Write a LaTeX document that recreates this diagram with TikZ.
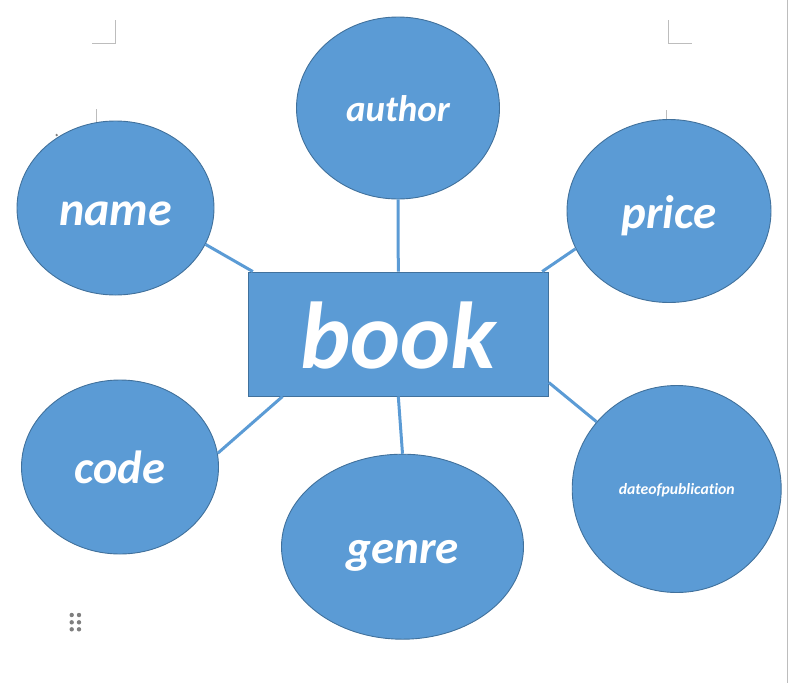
\documentclass[tikz,border=0pt]{standalone}
\usepackage{fontspec}
\setmainfont{Carlito}[Ligatures=CommonOff]
\usetikzlibrary{shapes.geometric,calc}
\definecolor{ofill}{HTML}{5B9BD5}
\definecolor{oedge}{HTML}{41719C}
\definecolor{guidegray}{HTML}{BDBDBD}
\definecolor{dotgray}{HTML}{7F7F7F}
\begin{document}
\begin{tikzpicture}[x=1pt,y=-1pt,
  attr/.style={ellipse, draw=oedge, fill=ofill, line width=0.9pt, inner sep=0pt,
    text=white, font=\bfseries\itshape\fontsize{#1}{#1}\selectfont,
    text height={0.73*#1pt}, text depth=0pt},
  ent/.style={rectangle, draw=oedge, fill=ofill, line width=0.9pt, inner sep=0pt,
    text=white, font=\bfseries\itshape\fontsize{#1}{#1}\selectfont,
    text height={0.73*#1pt}, text depth=0pt},
  link/.style={draw=ofill, line width=3pt},
  guide/.style={draw=guidegray, line width=1pt},
  gdot/.style={circle, fill=dotgray, inner sep=0pt, minimum size=4.4pt}]
\useasboundingbox (0,0) rectangle (789,683);

% page guides
\draw[guide] (115.7,20) -- (115.7,43.3) -- (92.3,43.3);
\draw[guide] (668.3,20) -- (668.3,43.3) -- (691.7,43.3);
\draw[guide] (96.7,109.3) -- (96.7,122);
\draw[guide] (666.7,110) -- (666.7,120);
\draw[guide] (787.7,0) -- (787.7,683);

% entity and attributes
\node[ent=95, minimum width=300, minimum height=124] (book) at (398.3,334) {book};
\node[attr=48, minimum width=197, minimum height=174] (name) at (115.5,208) {name};
\node[attr=37, minimum width=203, minimum height=182] (author) at (398,108) {author};
\node[attr=47, minimum width=204, minimum height=183] (price) at (669,211) {price};
\node[attr=46.5, minimum width=197, minimum height=174] (code) at (120,467) {code};
\node[attr=47, minimum width=242, minimum height=185] (genre) at (402.5,546.7) {genre};
\node[attr=15.7, minimum width=209, minimum height=207] (dop) at (676.7,489) {dateofpublication};

% connectors
\draw[link] (name.-22.5) -- ($(book.north west)+(5,0)$);
\draw[link] (author.south) -- (book.north);
\draw[link] (price.-158.5) -- ($(book.north east)+(-6.6,0)$);
\draw[link] (code.8.7) -- ($(book.south west)+(34.7,0)$);
\draw[link] (book.south) -- (genre.north);
\draw[link] ($(book.south east)+(0,-14)$) -- (dop.140.5);

% small marks
\node[gdot, minimum size=2.6pt] (mark) at (56.7,135) {};
\node[gdot] (d1) at (71.7,615) {};
\node[gdot] (d2) at (79,615) {};
\node[gdot] (d3) at (71.7,622.3) {};
\node[gdot] (d4) at (79,622.3) {};
\node[gdot] (d5) at (71.7,629.3) {};
\node[gdot] (d6) at (79,629.3) {};
\end{tikzpicture}
\end{document}
